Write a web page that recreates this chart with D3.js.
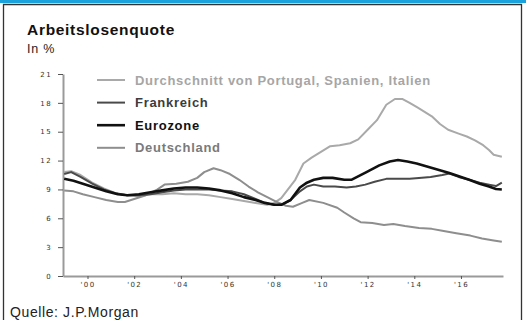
<!DOCTYPE html>
<html>
<head>
<meta charset="utf-8">
<script src="https://cdn.jsdelivr.net/npm/d3@7/dist/d3.min.js"></script>
<style>
  html, body { margin: 0; padding: 0; background: #fff; }
  svg { display: block; }
</style>
</head>
<body>
<svg id="chart" width="526" height="320"></svg>
<script>
// Arbeitslosenquote in % — [Jahr, Wert]
const durchschnittPSI = [
  [1999.0,10.8],[1999.3,10.9],[1999.7,10.5],[2000.2,9.7],[2000.7,9.1],[2001.2,8.6],[2001.7,8.4],
  [2002.2,8.3],[2002.7,8.5],[2003.2,8.5],[2003.7,8.6],[2004.2,8.5],[2004.7,8.5],[2005.2,8.4],
  [2005.7,8.2],[2006.2,8.0],[2006.7,7.8],[2007.2,7.6],[2007.7,7.4],[2008.0,7.6],[2008.3,8.1],
  [2008.9,10.0],[2009.25,11.7],[2009.6,12.3],[2010.0,12.9],[2010.4,13.5],[2010.8,13.6],
  [2011.25,13.8],[2011.6,14.2],[2012.0,15.2],[2012.4,16.2],[2012.8,17.8],[2013.17,18.4],
  [2013.5,18.4],[2013.8,18.0],[2014.15,17.5],[2014.75,16.6],[2015.1,15.8],[2015.45,15.2],
  [2015.9,14.8],[2016.25,14.5],[2016.6,14.1],[2016.95,13.6],[2017.2,13.1],[2017.4,12.6],[2017.75,12.4]
];
const frankreich = [
  [1999.0,10.6],[1999.3,10.8],[1999.7,10.3],[2000.2,9.6],[2000.7,9.0],[2001.2,8.6],[2001.7,8.4],
  [2002.2,8.4],[2002.7,8.5],[2003.2,8.7],[2003.7,8.9],[2004.2,9.0],[2004.7,9.0],[2005.2,9.0],
  [2005.7,8.9],[2006.2,8.8],[2006.7,8.5],[2007.2,8.0],[2007.6,7.6],[2008.0,7.4],[2008.3,7.4],
  [2008.7,7.9],[2009.1,8.8],[2009.4,9.3],[2009.7,9.5],[2010.1,9.3],[2010.6,9.3],[2011.1,9.2],
  [2011.5,9.3],[2011.9,9.5],[2012.3,9.8],[2012.8,10.1],[2013.3,10.1],[2013.8,10.1],[2014.2,10.2],
  [2014.7,10.3],[2015.2,10.5],[2015.5,10.65],[2015.9,10.3],[2016.35,10.0],[2016.8,9.7],
  [2017.2,9.5],[2017.5,9.35],[2017.75,9.7]
];
const eurozone = [
  [1999.0,10.1],[1999.4,9.9],[1999.8,9.6],[2000.3,9.2],[2000.8,8.8],[2001.3,8.5],[2001.7,8.4],
  [2002.2,8.5],[2002.7,8.7],[2003.2,8.9],[2003.7,9.1],[2004.2,9.2],[2004.7,9.2],[2005.2,9.1],
  [2005.7,8.9],[2006.2,8.6],[2006.7,8.2],[2007.2,7.9],[2007.6,7.6],[2008.0,7.4],[2008.3,7.4],
  [2008.7,7.9],[2009.1,9.2],[2009.4,9.7],[2009.7,10.0],[2010.1,10.2],[2010.5,10.2],[2011.0,10.0],
  [2011.3,10.0],[2011.95,10.8],[2012.5,11.5],[2012.95,11.9],[2013.3,12.05],[2013.7,11.9],
  [2014.1,11.7],[2014.8,11.2],[2015.5,10.7],[2016.35,10.0],[2016.8,9.6],[2017.2,9.3],
  [2017.5,9.05],[2017.75,9.0]
];
const deutschland = [
  [1999.0,8.9],[1999.4,8.8],[1999.8,8.5],[2000.3,8.2],[2000.8,7.9],[2001.3,7.7],[2001.6,7.7],
  [2002.0,8.0],[2002.5,8.4],[2003.0,9.0],[2003.3,9.5],[2003.8,9.6],[2004.3,9.8],[2004.7,10.2],
  [2005.0,10.8],[2005.4,11.2],[2005.7,11.0],[2006.1,10.6],[2006.5,10.0],[2006.9,9.3],[2007.3,8.7],
  [2007.7,8.2],[2008.1,7.7],[2008.5,7.3],[2008.8,7.2],[2009.2,7.6],[2009.5,7.9],[2010.1,7.6],
  [2010.7,7.1],[2011.0,6.6],[2011.4,6.0],[2011.7,5.6],[2012.2,5.5],[2012.7,5.3],[2013.1,5.4],
  [2013.6,5.2],[2014.2,5.0],[2014.75,4.9],[2015.2,4.7],[2015.8,4.45],[2016.4,4.2],[2016.9,3.9],
  [2017.4,3.7],[2017.75,3.55]
];

const yTicks = [0, 3, 6, 9, 12, 15, 18, 21];
const xTicks = [2000, 2002, 2004, 2006, 2008, 2010, 2012, 2014, 2016];

const series = [
  { name: "Durchschnitt von Portugal, Spanien, Italien", data: durchschnittPSI, color: "#a9a9a9", text: "#a6a6a6", width: 2 },
  { name: "Frankreich", data: frankreich, color: "#4a4a4a", text: "#3c3c3c", width: 2 },
  { name: "Eurozone", data: eurozone, color: "#111111", text: "#111111", width: 2.6 },
  { name: "Deutschland", data: deutschland, color: "#8e8e8e", text: "#7a7a7a", width: 2 }
];

const sans = "Liberation Sans, Arial, sans-serif";
const svg = d3.select("#chart");

// header strip and frame
svg.append("rect").attr("x", 0).attr("y", 0).attr("width", 526).attr("height", 3).attr("fill", "#1ba1dc");
svg.append("path").attr("d", "M3.5,330 V4.5 H521.5 V330")
  .attr("fill", "none").attr("stroke", "#333").attr("stroke-width", 1.3);

svg.append("text").attr("x", 27).attr("y", 35)
  .attr("font-family", sans).attr("font-weight", "bold")
  .attr("font-size", 15.5).attr("letter-spacing", 0.7).attr("fill", "#111").text("Arbeitslosenquote");
svg.append("text").attr("x", 27).attr("y", 53)
  .attr("font-family", sans).attr("letter-spacing", 0.8)
  .attr("font-size", 12.5).attr("fill", "#222").text("In %");

const x = d3.scaleLinear().domain([1998.95, 2017.8]).range([63, 503]);
const y = d3.scaleLinear().domain([0, 21]).range([276, 74]);

// axes
const yAxis = svg.append("g").attr("transform", "translate(63,0)")
  .call(d3.axisLeft(y).tickValues(yTicks).tickSize(5).tickPadding(6).tickSizeOuter(0));
const xAxis = svg.append("g").attr("transform", "translate(0,276)")
  .call(d3.axisBottom(x).tickValues(xTicks).tickSize(3).tickPadding(3).tickSizeOuter(0)
    .tickFormat(d => "'" + String(d).slice(2)));

[yAxis, xAxis].forEach(g => {
  g.select(".domain").attr("stroke", "#9a9a9a").attr("stroke-width", 2);
  g.selectAll(".tick line").attr("stroke", "#555").attr("stroke-width", 1);
  g.selectAll(".tick text")
    .attr("font-family", "DejaVu Sans, sans-serif").attr("font-size", 7)
    .attr("letter-spacing", 1.4).attr("fill", "#333");
});

// series lines
const line = d3.line().x(d => x(d[0])).y(d => y(d[1])).curve(d3.curveLinear);
const drawOrder = [series[0], series[3], series[1], series[2]];
svg.append("g").selectAll("path").data(drawOrder).join("path")
  .attr("d", d => line(d.data))
  .attr("fill", "none")
  .attr("stroke", d => d.color)
  .attr("stroke-width", d => d.width)
  .attr("stroke-linejoin", "round");

// legend
const legend = svg.append("g").selectAll("g").data(series).join("g")
  .attr("transform", (d, i) => `translate(97,${80 + i * 22.6})`);
legend.append("line").attr("x1", 0).attr("x2", 28).attr("y1", 0).attr("y2", 0)
  .attr("stroke", d => d.color).attr("stroke-width", d => d.width);
legend.append("text").attr("x", 38).attr("y", 4.5)
  .attr("font-family", sans).attr("font-weight", "bold")
  .attr("font-size", 13).attr("letter-spacing", 0.7)
  .attr("fill", d => d.text).text(d => d.name);

svg.append("text").attr("x", 10).attr("y", 317)
  .attr("font-family", sans).attr("letter-spacing", 0.6)
  .attr("font-size", 14).attr("fill", "#222").text("Quelle: J.P.Morgan");
</script>
</body>
</html>
